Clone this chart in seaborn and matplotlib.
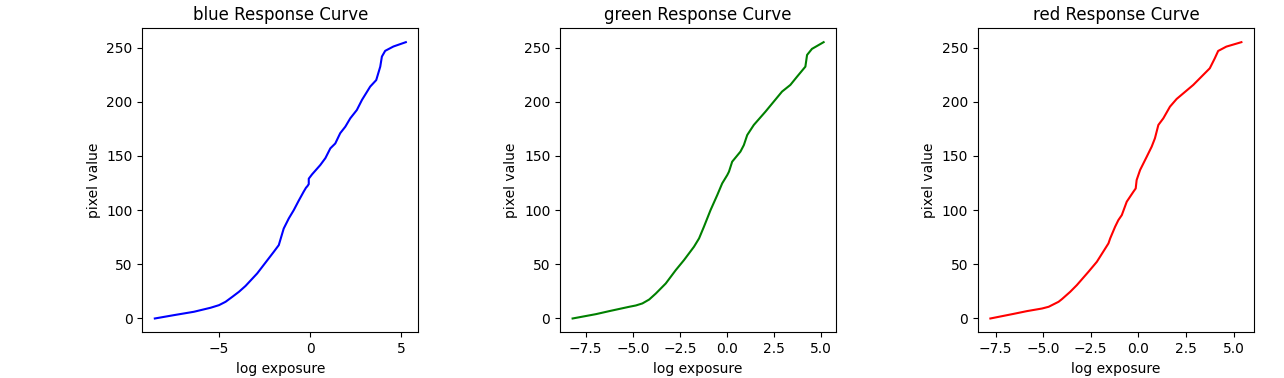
import matplotlib
matplotlib.use("Agg")
import matplotlib.pyplot as plt
import seaborn as sns
import pandas as pd

blue_x = [-8.49, -7.44, -6.35, -5.44, -4.98, -4.62, -4.25, -3.89, -3.53, -2.89, -1.98, -1.71, -1.44, -1.16, -0.89,
          -0.62, -0.35, -0.22, -0.15, -0.07, -0.07, 0.11, 0.56, 0.84, 1.11, 1.38, 1.65, 1.93,
          2.20, 2.56, 2.84, 3.29, 3.62, 3.84, 3.93, 4.11, 4.56, 5.24]
blue_y = [0, 3.1, 6.2, 9.9, 12.3, 15.4, 20, 24.6, 30, 41.6, 61.6, 67.7, 83, 92.4, 100,
          108.7, 117, 120.7, 122, 124, 129, 133, 141.6, 148, 157, 161.5, 171, 177,
          184.7, 192.4, 201.7, 214, 220, 232.4, 241.7, 247, 251, 255]

green_x = [-8.20, -6.96, -6.25, -5.19, -4.84, -4.49, -4.13, -3.78, -3.25, -2.72, -2.28, -1.75, -1.48, -1.22,
           -0.87, -0.51, -0.25, 0.02, 0.11, 0.28, 0.72, 0.90, 1.08, 1.43, 2.05, 2.93, 3.37,
           3.73, 4.17, 4.26, 4.52, 5.14]
green_y = [0, 4, 6.8, 10.8, 12, 13.9, 17.5, 23, 32.3, 44.6, 53.9, 66.2, 73.9, 84.7,
           100, 114, 124.7, 132.4, 135.5, 144.7, 154, 160, 169.3, 178.6, 190.9, 209.4, 215.5,
           223.2, 232.4, 243.2, 248.8, 255]

red_x = [-7.77, -6.54, -5.85, -5.06, -4.71, -4.36, -4.19, -4.01, -3.58, -3.23, -2.62, -2.18, -1.57, -1.48, -1.22,
         -1.05, -0.87, -0.61, -0.26, -0.14, -0.09, 0.09, 0.44, 0.70, 0.87, 1.05, 1.31, 1.66,
         2.01, 2.88, 3.75, 4.01, 4.19, 4.62, 5.41]
red_y = [0, 4.3, 6.8, 9.2, 10.8, 13.9, 15.4, 17.9, 24.6, 30.8, 43.1, 52.3, 69.3, 73.9, 84.7,
         90.8, 95.4, 107.8, 117, 120, 127.8, 137, 149.3, 158.6, 166.3, 178.6, 184.7, 195.5,
         202.6, 215.5, 230.9, 240, 246.9, 250.9, 255]

channels = ["blue", "green", "red"]
xs = [blue_x, green_x, red_x]
ys = [blue_y, green_y, red_y]

fig, axes = plt.subplots(1, 3, figsize=(12.84, 3.78), dpi=100)
fig.subplots_adjust(left=0.1108, right=0.9766, bottom=0.1209, top=0.925, wspace=0.513)

for ax, name, x, y in zip(axes, channels, xs, ys):
    df = pd.DataFrame({"log exposure": x, "pixel value": y})
    sns.lineplot(data=df, x="log exposure", y="pixel value", ax=ax, color=name,
                 sort=False, estimator=None, linewidth=1.5)
    ax.set_title(f"{name} Response Curve", fontsize=12)
    ax.set_xlabel("log exposure")
    ax.set_ylabel("pixel value")
    ax.set_yticks([0, 50, 100, 150, 200, 250])

axes[0].set_xticks([-5, 0, 5])

fig.savefig("out.png", dpi=100)
